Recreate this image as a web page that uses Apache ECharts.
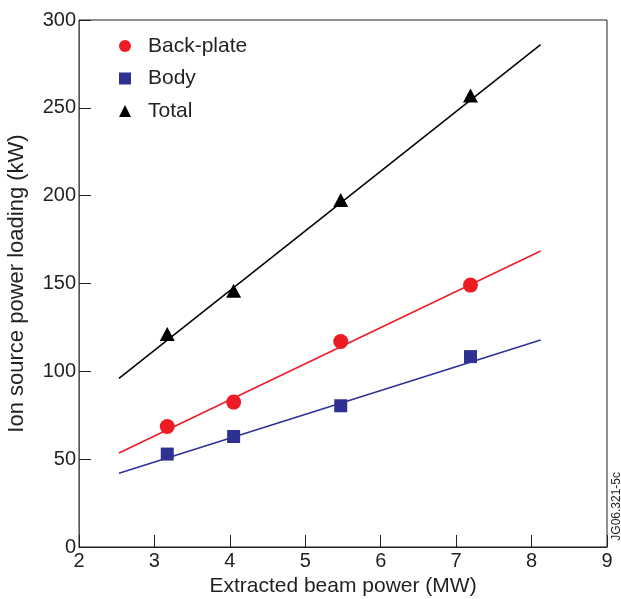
<!DOCTYPE html>
<html><head><meta charset="utf-8">
<script src="https://cdn.jsdelivr.net/npm/echarts@6/dist/echarts.min.js"></script>
<style>html,body{margin:0;padding:0;background:#fff}#c{width:621px;height:599px}</style>
</head><body><div id="c"></div>
<script>
const xBeam = [3.17, 4.05, 5.47, 7.19];
const backPlate = [68.6, 82.5, 117, 149.1];
const body = [52.9, 62.9, 80.4, 108.4];
const total = [121.3, 145.9, 197.6, 257];
const fitX = [2.53, 8.12];
const fitBack = [53.5, 168.5];
const fitBody = [42, 117.8];
const fitTotal = [96, 286];
const xTicks = [2,3,4,5,6,7,8,9];
const yTicks = [0,50,100,150,200,250,300];

const font = 'Liberation Sans, Arial, Helvetica, sans-serif';
const txt = '#231f20';
const pairs = (xs, ys) => xs.map((x, i) => [x, ys[i]]);

const chart = echarts.init(document.getElementById('c'));
chart.setOption({
  animation: false,
  backgroundColor: '#fff',
  grid: {left: 79, right: 14, top: 20, bottom: 52, show: true, borderColor: txt, borderWidth: 1,
         containLabel: false, outerBoundsMode: 'none'},
  legend: {
    orient: 'vertical', left: 114, top: 30, itemGap: 10.5, itemWidth: 12, itemHeight: 12,
    textStyle: {fontFamily: font, fontSize: 21, lineHeight: 22, color: txt, padding: [0,0,0,12]},
    data: [
      {name: 'Back-plate', icon: 'circle'},
      {name: 'Body', icon: 'rect'},
      {name: 'Total', icon: 'triangle'}
    ]
  },
  xAxis: {
    type: 'value', min: xTicks[0], max: xTicks[xTicks.length-1], interval: 1,
    name: 'Extracted beam power (MW)', nameLocation: 'middle', nameGap: 24,
    nameTextStyle: {fontFamily: font, fontSize: 21, color: txt},
    axisLine: {lineStyle: {color: txt, width: 1}},
    axisTick: {inside: true, length: 12, lineStyle: {color: txt}},
    axisLabel: {fontFamily: font, fontSize: 20, color: txt, margin: 4},
    splitLine: {show: false}
  },
  yAxis: {
    type: 'value', min: yTicks[0], max: yTicks[yTicks.length-1], interval: 50,
    name: 'Ion source power loading (kW)', nameLocation: 'middle', nameGap: 51,
    nameTextStyle: {fontFamily: font, fontSize: 22, color: txt},
    axisLine: {lineStyle: {color: '#555', width: 1}},
    axisTick: {inside: true, length: 12, lineStyle: {color: txt}},
    axisLabel: {fontFamily: font, fontSize: 20, color: txt, margin: 3},
    splitLine: {show: false}
  },
  series: [
    {name: 'fitTotal', type: 'line', data: pairs(fitX, fitTotal), symbol: 'none', lineStyle: {color: '#000', width: 1.5}, z: 1},
    {name: 'fitBack', type: 'line', data: pairs(fitX, fitBack), symbol: 'none', lineStyle: {color: '#ed1c24', width: 1.5}, z: 1},
    {name: 'fitBody', type: 'line', data: pairs(fitX, fitBody), symbol: 'none', lineStyle: {color: '#2e3192', width: 1.5}, z: 1},
    {name: 'Back-plate', type: 'scatter', data: pairs(xBeam, backPlate), symbol: 'circle', symbolSize: 15, itemStyle: {color: '#ed1c24', opacity: 1}, z: 3},
    {name: 'Body', type: 'scatter', data: pairs(xBeam, body), symbol: 'rect', symbolSize: 13, itemStyle: {color: '#2e3192', opacity: 1}, z: 3},
    {name: 'Total', type: 'scatter', data: pairs(xBeam, total), symbol: 'triangle', symbolSize: [15, 14], itemStyle: {color: '#000', opacity: 1}, z: 3}
  ],
  graphic: [{
    type: 'text', left: 611, top: 472, rotation: Math.PI/2,
    style: {text: 'JG06.321-5c', fontFamily: font, fontSize: 12, fill: txt}
  }]
});
</script></body></html>
